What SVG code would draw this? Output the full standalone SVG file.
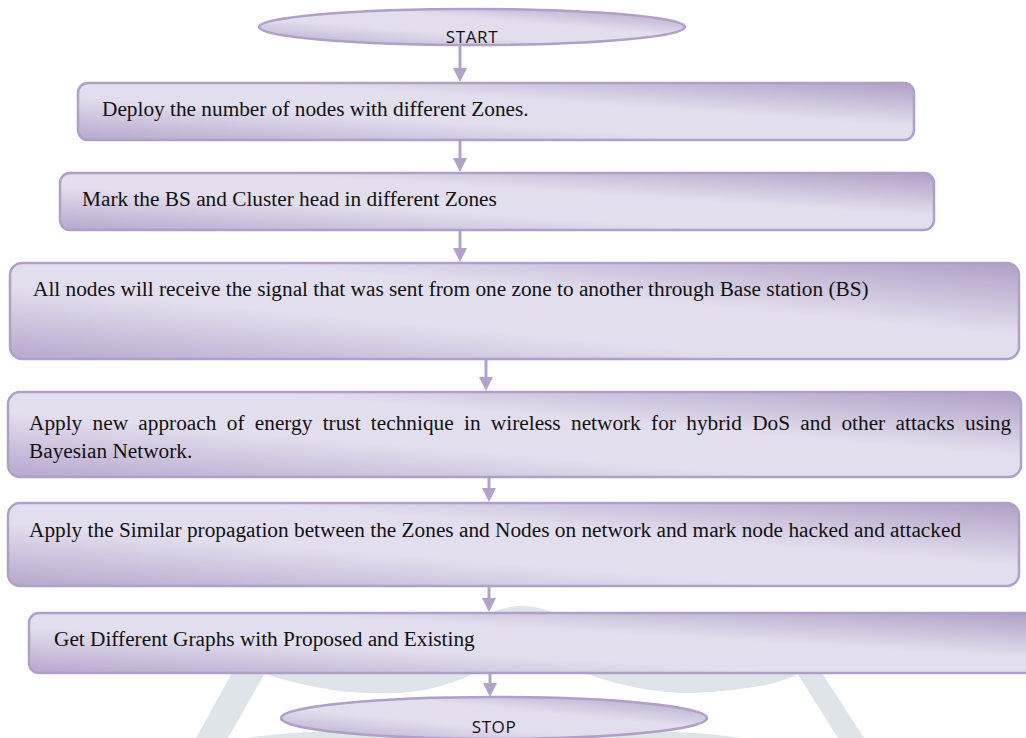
<svg xmlns="http://www.w3.org/2000/svg" width="1026" height="738" viewBox="0 0 1026 738">
<style>
.box{fill:url(#g);stroke:#b09fc6;stroke-width:2.5}
.t{font-family:"Liberation Serif","Times New Roman",serif;font-size:21.3px;fill:#111}
.s{font-family:"Open Sans","Liberation Sans",sans-serif;font-size:17px;fill:#111;letter-spacing:0.6px;text-anchor:middle}
.c{stroke:#b2a2ca;stroke-width:3;fill:none;marker-end:url(#ah)}
.wm{fill:#dfe4e8}
</style>
<defs>
<linearGradient id="g" x1="0" y1="1" x2="1" y2="0">
<stop offset="0" stop-color="#b7a7cd"/>
<stop offset="0.38" stop-color="#e3deee"/>
<stop offset="0.62" stop-color="#e3deee"/>
<stop offset="1" stop-color="#b09fc6"/>
</linearGradient>
<marker id="ah" viewBox="0 0 14 14" refX="4" refY="7" markerWidth="14" markerHeight="14" markerUnits="userSpaceOnUse" orient="auto">
<path d="M0,0 L14,7 L0,14 Z" fill="#b2a2ca"/>
</marker>
</defs>
<rect width="1026" height="738" fill="#ffffff"/>
<g id="watermark">
<path class="wm" d="M488 614 Q522 598 556 614 Z"/>
<path class="wm" d="M262 673 L475 673 Q440 690 400 693 Q360 694 333 690 Q295 684 262 673 Z"/>
<path class="wm" d="M585 673 L800 673 Q780 684 747 688 Q715 693 680 693 Q630 690 585 673 Z"/>
<path class="wm" d="M232 673 L265 673 L228 738 L196 738 Z"/>
<path class="wm" d="M797 673 L822 673 L864 738 L838 738 Z"/>
<ellipse class="wm" cx="494" cy="742" rx="258" ry="14"/>
</g>
<g id="connectors">
<line class="c" x1="460" y1="45" x2="460" y2="72"/>
<line class="c" x1="460" y1="141" x2="460" y2="162"/>
<line class="c" x1="460" y1="231" x2="460" y2="252"/>
<line class="c" x1="486" y1="360" x2="486" y2="381"/>
<line class="c" x1="489" y1="478" x2="489" y2="492"/>
<line class="c" x1="489" y1="587" x2="489" y2="602"/>
<line class="c" x1="490" y1="674" x2="490" y2="687"/>
</g>
<g id="start">
<ellipse class="box" cx="472" cy="27" rx="213" ry="18"/>
<text class="s" x="472" y="43">START</text>
</g>
<g id="step1">
<rect class="box" x="78" y="83" width="836" height="57" rx="10"/>
<text class="t" x="102" y="116">Deploy the number of nodes with different Zones.</text>
</g>
<g id="step2">
<rect class="box" x="60" y="173" width="874" height="57" rx="10"/>
<text class="t" x="82" y="206">Mark the BS and Cluster head in different Zones</text>
</g>
<g id="step3">
<rect class="box" x="10" y="263" width="1009" height="96" rx="12"/>
<text class="t" x="33" y="296">All nodes will receive the signal that was sent from one zone to another through Base station (BS)</text>
</g>
<g id="step4">
<rect class="box" x="8" y="392" width="1013" height="85" rx="12"/>
<text class="t" x="29" y="430" word-spacing="5.0">Apply new approach of energy trust technique in wireless network for hybrid DoS and other attacks using</text>
<text class="t" x="29" y="458">Bayesian Network.</text>
</g>
<g id="step5">
<rect class="box" x="8" y="503" width="1011" height="83" rx="12"/>
<text class="t" x="29" y="537">Apply the Similar propagation between the Zones and Nodes on network and mark node hacked and attacked</text>
</g>
<g id="step6">
<rect class="box" x="29" y="613" width="1010" height="60" rx="10"/>
<text class="t" x="54" y="646">Get Different Graphs with Proposed and Existing</text>
</g>
<g id="stop">
<ellipse class="box" cx="494" cy="718" rx="213" ry="21"/>
<text class="s" x="494" y="733">STOP</text>
</g>
</svg>
